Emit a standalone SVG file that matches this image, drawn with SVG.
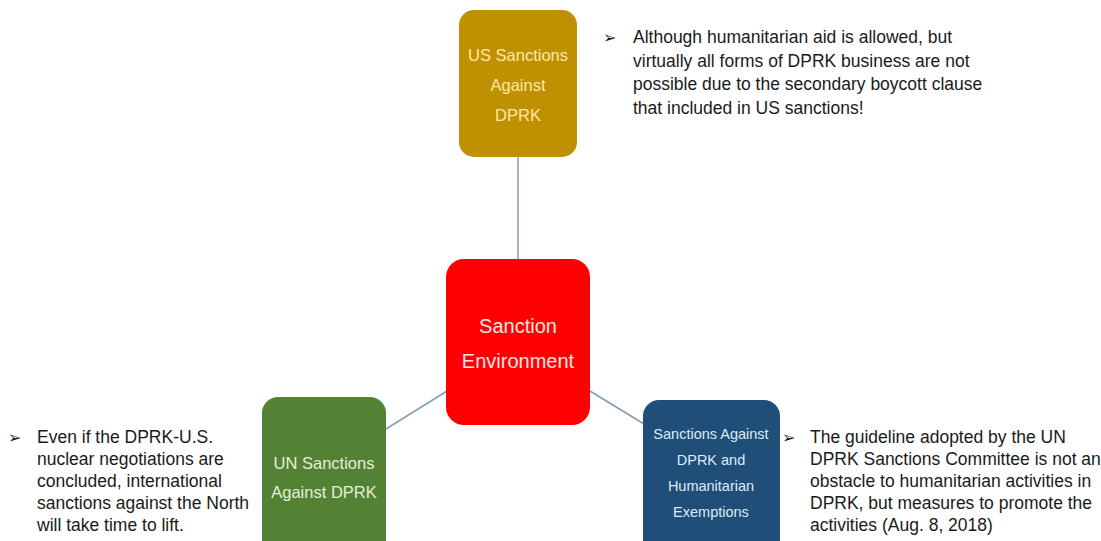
<svg xmlns="http://www.w3.org/2000/svg" width="1101" height="541" viewBox="0 0 1101 541">
<style>
.bt{font-family:"Liberation Sans","DejaVu Sans",sans-serif;font-size:17.5px;fill:#1a1a1a}
.bl{font-family:"DejaVu Sans",sans-serif;font-size:16px;fill:#1a1a1a}
.nt{font-family:"Liberation Sans","DejaVu Sans",sans-serif;text-anchor:middle}
.cn{stroke:#7f9db9;stroke-width:1.5;fill:none}
</style>
<rect width="1101" height="541" fill="#ffffff"/>
<g id="connectors">
<line class="cn" x1="518" y1="157" x2="518" y2="260"/>
<line class="cn" x1="386" y1="429" x2="447" y2="391"/>
<line class="cn" x1="590" y1="391" x2="644" y2="424"/>
</g>
<g id="us-sanctions">
<rect x="459" y="10" width="118" height="147" rx="15" fill="#bf9000"/>
<text class="nt" x="518" y="61" font-size="16.5" fill="#ffe8a8">US Sanctions</text>
<text class="nt" x="518" y="91" font-size="16.5" fill="#ffe8a8">Against</text>
<text class="nt" x="518" y="121" font-size="16.5" fill="#ffe8a8">DPRK</text>
</g>
<g id="sanction-environment">
<rect x="446" y="259" width="144" height="166" rx="18" fill="#ff0000"/>
<text class="nt" x="518" y="333" font-size="20" fill="#ffe4e4">Sanction</text>
<text class="nt" x="518" y="368" font-size="20" fill="#ffe4e4">Environment</text>
</g>
<g id="un-sanctions">
<rect x="262" y="397" width="124" height="160" rx="16" fill="#548235"/>
<text class="nt" x="324" y="469" font-size="16.5" fill="#e2f0d9">UN Sanctions</text>
<text class="nt" x="324" y="498" font-size="16.5" fill="#e2f0d9">Against DPRK</text>
</g>
<g id="humanitarian-exemptions">
<rect x="643" y="400" width="137" height="160" rx="16" fill="#1f4e79"/>
<text class="nt" x="711" y="439" font-size="14.5" fill="#deebf7">Sanctions Against</text>
<text class="nt" x="711" y="465" font-size="14.5" fill="#deebf7">DPRK and</text>
<text class="nt" x="711" y="491" font-size="14.5" fill="#deebf7">Humanitarian</text>
<text class="nt" x="711" y="517" font-size="14.5" fill="#deebf7">Exemptions</text>
</g>
<g id="note-us">
<text class="bl" x="603" y="43">➢</text>
<text class="bt" x="633" y="43">Although humanitarian aid is allowed, but</text>
<text class="bt" x="633" y="67">virtually all forms of DPRK business are not</text>
<text class="bt" x="633" y="90">possible due to the secondary boycott clause</text>
<text class="bt" x="633" y="114">that included in US sanctions!</text>
</g>
<g id="note-un">
<text class="bl" x="8" y="443">➢</text>
<text class="bt" x="37" y="443">Even if the DPRK-U.S.</text>
<text class="bt" x="37" y="465">nuclear negotiations are</text>
<text class="bt" x="37" y="487">concluded, international</text>
<text class="bt" x="37" y="509">sanctions against the North</text>
<text class="bt" x="37" y="531">will take time to lift.</text>
</g>
<g id="note-exemptions">
<text class="bl" x="782" y="443">➢</text>
<text class="bt" x="810" y="443">The guideline adopted by the UN</text>
<text class="bt" x="810" y="465">DPRK Sanctions Committee is not an</text>
<text class="bt" x="810" y="487">obstacle to humanitarian activities in</text>
<text class="bt" x="810" y="509">DPRK, but measures to promote the</text>
<text class="bt" x="810" y="531">activities (Aug. 8, 2018)</text>
</g>
</svg>
